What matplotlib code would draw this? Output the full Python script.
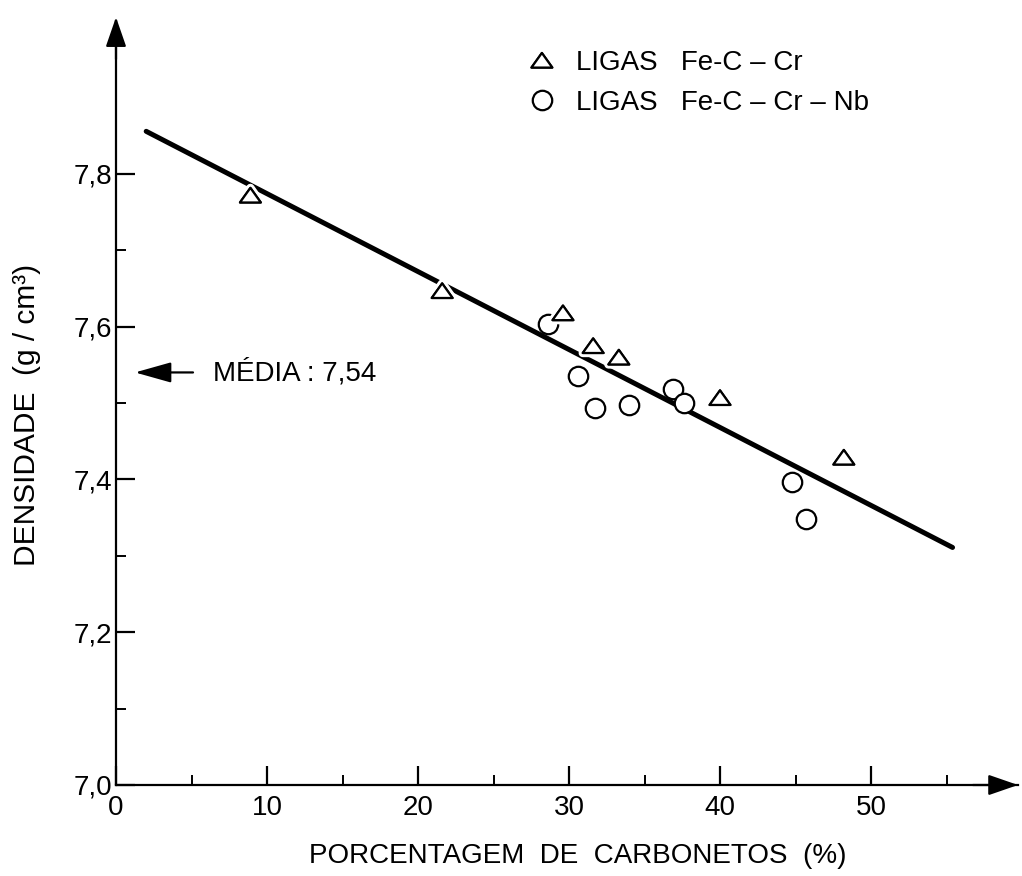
import matplotlib
matplotlib.use("Agg")
import matplotlib.pyplot as plt
import matplotlib.patheffects as pe
from matplotlib.path import Path
import numpy as np

plt.rcParams["font.family"] = ["Liberation Sans", "DejaVu Sans"]
plt.rcParams["font.size"] = 20

# Carbide fraction (%) and measured density (g/cm3)
fe_c_cr_carb = [8.9, 21.6, 29.6, 31.6, 33.3, 40.0, 48.2]
fe_c_cr_dens = [7.772, 7.647, 7.618, 7.575, 7.560, 7.507, 7.429]

fe_c_cr_nb_carb = [28.6, 30.6, 31.7, 34.0, 36.9, 37.6, 44.8, 45.7]
fe_c_cr_nb_dens = [7.604, 7.535, 7.493, 7.498, 7.518, 7.500, 7.397, 7.348]

# Linear fit of density against carbide fraction
fit_intercept = 7.876
fit_slope = -0.0102
fit_range = [2.0, 55.4]

mean_density = 7.54

x_ticks = [0, 10, 20, 30, 40, 50]
x_minor = [5, 15, 25, 35, 45, 55]
y_ticks = [7.0, 7.2, 7.4, 7.6, 7.8]
y_minor = [7.1, 7.3, 7.5, 7.7]
y_tick_labels = ["7,0", "7,2", "7,4", "7,6", "7,8"]

W, H = 1022, 876
fig = plt.figure(figsize=(W / 100, H / 100), dpi=100)
ax = fig.add_axes([116 / W, 91 / H, 902 / W, 764 / H])
ax.set_xlim(0, 902 / 15.1)
ax.set_ylim(7.0, 8.0)

for s in ("top", "right"):
    ax.spines[s].set_visible(False)
for s in ("left", "bottom"):
    ax.spines[s].set_linewidth(1.6)

ax.set_xticks(x_ticks)
ax.set_xticks(x_minor, minor=True)
ax.set_yticks(y_ticks)
ax.set_yticks(y_minor, minor=True)
ax.set_yticklabels(y_tick_labels)
ax.tick_params(which="major", direction="in", length=14, width=1.6, pad=7)
ax.tick_params(axis="y", which="major", pad=3)
ax.tick_params(which="minor", direction="in", length=7, width=1.4)

# Axis arrows
arrow_kw = dict(arrowstyle="-|>,head_length=1.3,head_width=0.45", color="black",
                lw=1.6, shrinkA=0, shrinkB=0, mutation_scale=14)
ax.annotate("", xy=(1, 0), xycoords="axes fraction", xytext=(0.95, 0),
            arrowprops=arrow_kw, annotation_clip=False)
ax.annotate("", xy=(0, 1.005), xycoords="axes fraction", xytext=(0, 0.95),
            arrowprops=arrow_kw, annotation_clip=False)

# Regression line
fx = np.array(fit_range)
ax.plot(fx, fit_intercept + fit_slope * fx, color="black", lw=3.6,
        solid_capstyle="round", zorder=2)

tri = Path([(-1, -0.7), (1, -0.7), (0, 0.7), (-1, -0.7)],
           [Path.MOVETO, Path.LINETO, Path.LINETO, Path.CLOSEPOLY])

ax.plot(fe_c_cr_nb_carb, fe_c_cr_nb_dens, linestyle="none", marker="o",
        markersize=14, markerfacecolor="white", markeredgecolor="black",
        markeredgewidth=1.6, zorder=3, label="LIGAS   Fe-C – Cr – Nb")
ax.plot(fe_c_cr_carb, fe_c_cr_dens, linestyle="none", marker=tri,
        markersize=15, markerfacecolor="white", markeredgecolor="black",
        markeredgewidth=1.6, zorder=4, label="LIGAS   Fe-C – Cr",
        path_effects=[pe.withStroke(linewidth=6, foreground="white"), pe.Normal()])

# Mean density marker
ax.annotate("", xy=(1.26, mean_density), xytext=(5.1, mean_density),
            arrowprops=dict(arrowstyle="-|>,head_length=1.6,head_width=0.45",
                            color="black", lw=1.6, shrinkA=0, shrinkB=0,
                            mutation_scale=14))
ax.text(6.4, mean_density, "MÉDIA : 7,54", ha="left", va="center", fontsize=20)

handles, labels = ax.get_legend_handles_labels()
leg = ax.legend(handles[::-1], labels[::-1], loc="upper left",
                bbox_to_anchor=(528 / W, 1 - 50 / H), bbox_transform=fig.transFigure,
                frameon=False, fontsize=20, handlelength=1.0, handletextpad=0.72,
                borderpad=0, borderaxespad=0, labelspacing=0.5)

fig.text(578 / W, 1 - 856 / H, "PORCENTAGEM  DE  CARBONETOS  (%)",
         ha="center", va="center", fontsize=20)
fig.text(27 / W, 1 - 415 / H, "DENSIDADE  (g / cm³)", rotation=90,
         ha="center", va="center", fontsize=21.5)

fig.savefig("out.png", dpi=100)
